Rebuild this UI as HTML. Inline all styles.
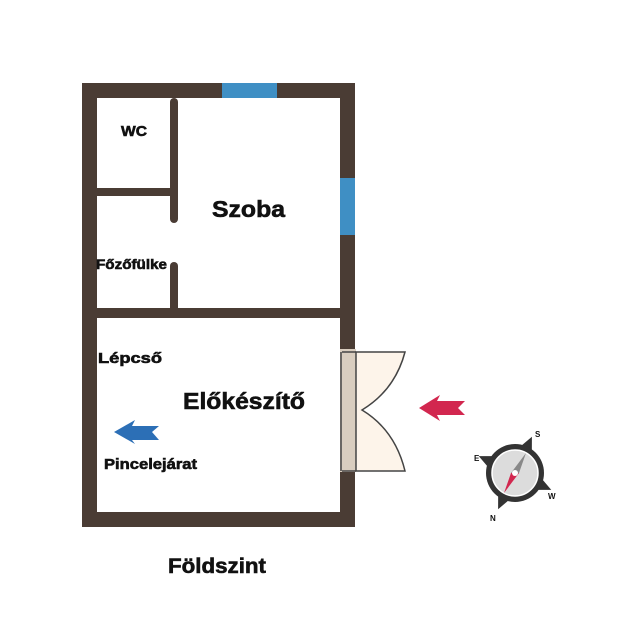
<!DOCTYPE html>
<html><head><style>
html,body{margin:0;padding:0;background:#fff;}
svg{display:block}
text{font-family:"Liberation Sans",sans-serif;font-weight:bold;fill:#111;stroke:#111;stroke-width:0.6;}
</style></head><body>
<svg width="640" height="624" viewBox="0 0 640 624" xmlns="http://www.w3.org/2000/svg">
<g fill="#4a3c34">
<rect x="82" y="83" width="273" height="15"/>
<rect x="82" y="83" width="15" height="444"/>
<rect x="82" y="512" width="273" height="15"/>
<rect x="340" y="83" width="15" height="266"/>
<rect x="340" y="472" width="15" height="55"/>
<rect x="97" y="188" width="76" height="8"/>
<rect x="170" y="98" width="8" height="125" rx="4"/>
<rect x="170" y="262" width="8" height="50" rx="4"/>
<rect x="97" y="308" width="243" height="10"/>
</g>
<rect x="222" y="83" width="55" height="15" fill="#3f8fc4"/>
<rect x="340" y="178" width="15" height="57" fill="#3f8fc4"/>
<rect x="340" y="349" width="16" height="123" fill="#d9cdbf"/>
<path d="M356,352 L405,352 Q395,390 362,410 Q395,430 405,471 L356,471 Z" fill="#fdf4ea" stroke="#444" stroke-width="1.5"/>
<line x1="342" y1="352" x2="356" y2="352" stroke="#444" stroke-width="1.5"/>
<line x1="342" y1="471" x2="356" y2="471" stroke="#444" stroke-width="1.5"/>
<line x1="341" y1="352" x2="341" y2="471" stroke="#444" stroke-width="1.5"/>
<path d="M419,408 L440,395 L437,401 L465,401 L458,408 L465,415 L437,415 L440,421 Z" fill="#d2274f"/>
<path d="M114,432 L135,420 L132,426 L159,426 L152,432 L159,440 L132,440 L135,444 Z" fill="#2c6fb6"/>
<g transform="translate(515,473)">
<g transform="rotate(25)">
<path d="M0,-40 L6,-27 L-6,-27 Z M0,40 L6,27 L-6,27 Z M-40,0 L-27,6 L-27,-6 Z M40,0 L27,6 L27,-6 Z" fill="#333"/>
</g>
<circle r="29" fill="#333"/>
<circle r="23" fill="#dcdcdc" stroke="#fff" stroke-width="1.5"/>
<path d="M-4,0 L11,-20 L4,0 Z" fill="#888"/>
<path d="M-4,0 L-11,20 L4,0 Z" fill="#d2274f"/>
<circle r="3" fill="#fff"/>
<text x="20" y="-36" font-size="8" style="stroke-width:0">S</text>
<text x="33" y="26" font-size="8" style="stroke-width:0">W</text>
<text x="-25" y="48" font-size="8" style="stroke-width:0">N</text>
<text x="-41" y="-12" font-size="8" style="stroke-width:0">E</text>
</g>
<text x="121" y="136" font-size="15" textLength="26" lengthAdjust="spacingAndGlyphs">WC</text>
<text x="212" y="217" font-size="23" textLength="73" lengthAdjust="spacingAndGlyphs">Szoba</text>
<text x="96" y="269" font-size="14" textLength="71" lengthAdjust="spacingAndGlyphs">Főzőfülke</text>
<text x="98" y="363" font-size="15" textLength="64" lengthAdjust="spacingAndGlyphs">Lépcső</text>
<text x="183" y="409" font-size="23" textLength="122" lengthAdjust="spacingAndGlyphs">Előkészítő</text>
<text x="104" y="469" font-size="15" textLength="93" lengthAdjust="spacingAndGlyphs">Pincelejárat</text>
<text x="168" y="573" font-size="21" textLength="98" lengthAdjust="spacingAndGlyphs">Földszint</text>
</svg>
</body></html>
